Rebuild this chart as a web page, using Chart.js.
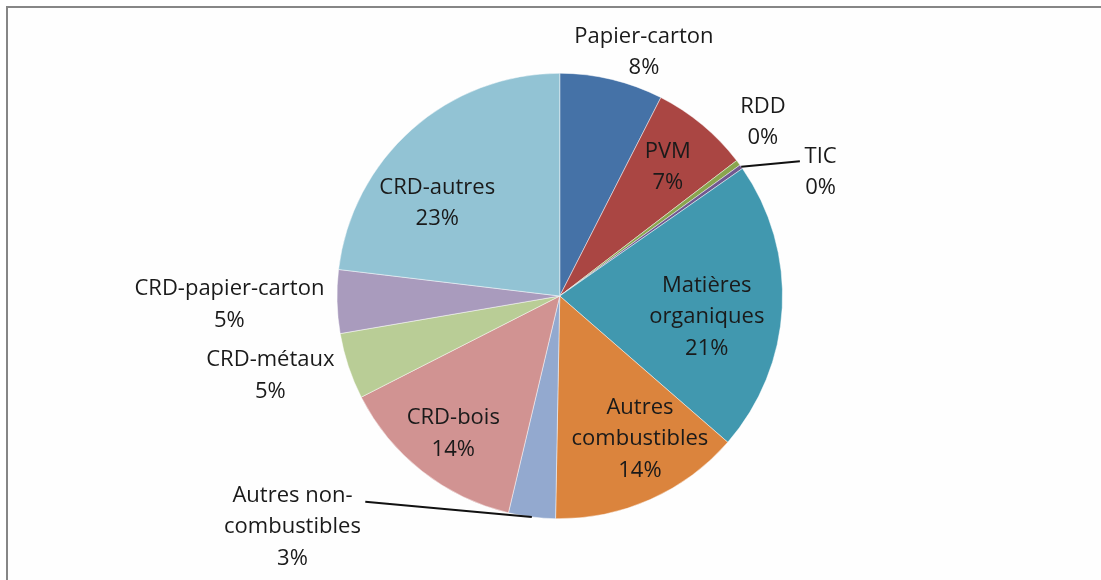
<!DOCTYPE html>
<html>
<head>
<meta charset="utf-8">
<script src="https://cdn.jsdelivr.net/npm/chart.js@4.4.1/dist/chart.umd.min.js"></script>
<style>
  html, body { margin: 0; padding: 0; background: #ffffff; overflow: hidden; }
  #frame { position: absolute; left: 6px; top: 6px; width: 1200px; height: 700px; border: 2px solid #868686; box-sizing: border-box; background: #fefefe; }
  #wrap { position: absolute; left: 0; top: 0; width: 1101px; height: 580px; }
</style>
</head>
<body>
<div id="frame"></div>
<div id="wrap"><canvas id="c" width="1101" height="580"></canvas></div>
<script>
// ---- Data ----
const categories = [
  "Papier-carton", "PVM", "RDD", "TIC", "Matières organiques",
  "Autres combustibles", "Autres non-combustibles", "CRD-bois",
  "CRD-métaux", "CRD-papier-carton", "CRD-autres"
];
const shares = [7.5, 7.1, 0.4, 0.3, 21.1, 13.9, 3.4, 13.8, 4.8, 4.6, 23.1];
const labelLines = [
  ["Papier-carton"], ["PVM"], ["RDD"], ["TIC"], ["Matières", "organiques"],
  ["Autres", "combustibles"], ["Autres non-", "combustibles"], ["CRD-bois"],
  ["CRD-métaux"], ["CRD-papier-carton"], ["CRD-autres"]
];

// ---- Styles ----
const colors = [
  "#4572A7", "#AA4643", "#89A54E", "#71588F", "#4198AF",
  "#DB843D", "#93A9CF", "#D19392", "#B9CD96", "#A99BBD", "#92C3D4"
];
// label block centres, in units of the pie radius relative to its centre
const labelPos = [
  [0.378, -1.095], [0.485, -0.578], [0.912, -0.78], [1.171, -0.556],
  [0.66, 0.094], [0.36, 0.641], [-1.2, 1.036], [-0.478, 0.619],
  [-1.299, 0.359], [-1.483, 0.04], [-0.55, -0.417]
];
// leader line end points (radius units) for labels placed outside
const leaders = { 3: [1.078, -0.605], 6: [-0.873, 0.924] };
const FONT = '22px "Open Sans"';
const LINE_H = 31.5;

const labelPlugin = {
  id: 'sliceLabels',
  afterDatasetsDraw(chart) {
    const ctx = chart.ctx;
    const meta = chart.getDatasetMeta(0);
    ctx.save();
    meta.data.forEach((arc, i) => {
      const cx = arc.x, cy = arc.y, r = arc.outerRadius;
      if (leaders[i]) {
        const mid = (arc.startAngle + arc.endAngle) / 2;
        const sx = cx + Math.cos(mid) * r, sy = cy + Math.sin(mid) * r;
        ctx.beginPath();
        ctx.moveTo(sx, sy);
        ctx.lineTo(cx + leaders[i][0] * r, cy + leaders[i][1] * r);
        ctx.strokeStyle = '#111';
        ctx.lineWidth = 2;
        ctx.stroke();
      }
      const lines = labelLines[i].concat([Math.round(shares[i]) + '%']);
      const px = cx + labelPos[i][0] * r;
      const py = cy + labelPos[i][1] * r;
      ctx.font = FONT;
      ctx.fillStyle = '#1a1a1a';
      ctx.textAlign = 'center';
      ctx.textBaseline = 'middle';
      const n = lines.length;
      lines.forEach((t, k) => {
        ctx.fillText(t, px, py + (k - (n - 1) / 2) * LINE_H);
      });
    });
    ctx.restore();
  }
};

new Chart(document.getElementById('c'), {
  type: 'pie',
  data: {
    labels: categories,
    datasets: [{
      data: shares,
      backgroundColor: colors,
      borderColor: 'rgba(255,255,255,0.45)',
      borderWidth: 1
    }]
  },
  options: {
    responsive: false,
    animation: false,
    layout: { padding: { top: 72.5, bottom: 60.5, left: 336.5, right: 318 } },
    plugins: { legend: { display: false }, tooltip: { enabled: false } }
  },
  plugins: [labelPlugin]
});
</script>
</body>
</html>
